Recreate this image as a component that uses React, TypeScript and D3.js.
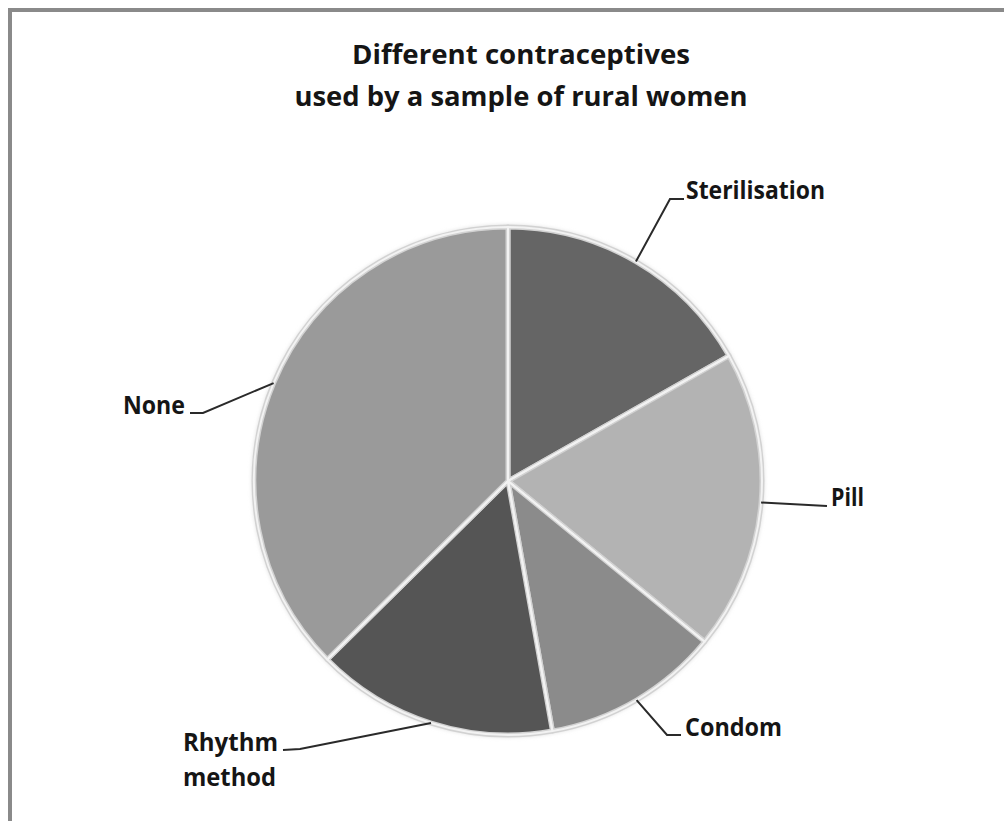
import React from "react";
import * as d3 from "d3";

const categories = ["Sterilisation", "Pill", "Condom", "Rhythm method", "None"];
const values = [16.8, 19.1, 11.3, 15.4, 37.4];
const sliceColors = ["#656565", "#b3b3b3", "#8b8b8b", "#555555", "#9a9a9a"];
const titleLines = ["Different contraceptives", "used by a sample of rural women"];

// label layout: elbow point, line end, text left x, first baseline, text lines with widths
const labelLayout = [
  { elbow: [670, 199], end: [684, 199], tx: 686, ty: 199, lines: [["Sterilisation", 139]] },
  { elbow: [790, 504], end: [827, 506], tx: 831, ty: 506, lines: [["Pill", 33]] },
  { elbow: [667, 735], end: [681, 735], tx: 685, ty: 736, lines: [["Condom", 97]] },
  { elbow: [300, 749], end: [283, 750], tx: 183, ty: 751, lines: [["Rhythm", 95], ["method", 93]] },
  { elbow: [203, 413], end: [190, 413], tx: 123, ty: 414, lines: [["None", 62]] },
];

const W = 1004;
const H = 821;
const cx = 508;
const cy = 481;
const R = 254;
const FONT = "'Open Sans', Lato, sans-serif";

export default function App() {
  const pie = d3
    .pie<number>()
    .sort(null)
    .value((d) => d)
    .startAngle(0)
    .endAngle(2 * Math.PI);
  const arcs = pie(values);
  const arcGen = d3.arc<d3.PieArcDatum<number>>().innerRadius(0).outerRadius(R);

  const pointAt = (a: number, r: number) => [Math.sin(a) * r, -Math.cos(a) * r];
  const titleWidths = [338, 453];

  return (
    <svg
      width={W}
      height={H}
      style={{ position: "absolute", left: 0, top: 0, background: "#fff" }}
    >
      <rect x={10} y={10} width={W + 40} height={H + 40} fill="#fff" stroke="#8a8a8a" strokeWidth={4} />
      {titleLines.map((t, i) => (
        <text
          key={"t" + i}
          x={521}
          y={64 + i * 42}
          textAnchor="middle"
          fontFamily={FONT}
          fontWeight="bold"
          fontSize={26}
          fill="#151515"
          textLength={titleWidths[i]}
          lengthAdjust="spacingAndGlyphs"
        >
          {t}
        </text>
      ))}
      <defs>
        <filter id="soft" x="-10%" y="-10%" width="120%" height="120%">
          <feGaussianBlur stdDeviation="2" />
        </filter>
      </defs>
      <g transform={`translate(${cx},${cy})`}>
        <circle r={R + 2} fill="#dcdcdc" filter="url(#soft)" />
        {arcs.map((a, i) => (
          <path key={"f" + i} d={arcGen(a) || ""} fill={sliceColors[i]} stroke="#d2d2d2" strokeWidth={5} strokeLinejoin="round" />
        ))}
        {arcs.map((a, i) => (
          <path key={"s" + i} d={arcGen(a) || ""} fill="none" stroke="#f2f2f2" strokeWidth={2} strokeLinejoin="round" />
        ))}
      </g>
      {arcs.map((a, i) => {
        const mid = (a.startAngle + a.endAngle) / 2;
        const [px, py] = pointAt(mid, R);
        const L = labelLayout[i];
        const pts: [number, number][] = [
          [cx + px, cy + py],
          [L.elbow[0], L.elbow[1]],
          [L.end[0], L.end[1]],
        ];
        const line = d3.line()(pts) || "";
        return (
          <g key={"l" + i}>
            <path d={line} fill="none" stroke="#2a2a2a" strokeWidth={2} />
            {L.lines.map(([t, w], j) => (
              <text
                key={j}
                x={L.tx}
                y={L.ty + j * 35}
                fontFamily={FONT}
                fontWeight="bold"
                fontSize={25}
                fill="#151515"
                textLength={w as number}
                lengthAdjust="spacingAndGlyphs"
              >
                {t}
              </text>
            ))}
          </g>
        );
      })}
    </svg>
  );
}
